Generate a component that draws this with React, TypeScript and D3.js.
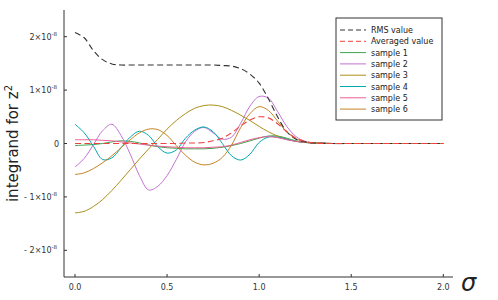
import React from "react";
import * as d3 from "d3";

// sigma grid and series values (units of 1e-8)
const sigma = [0, 0.05, 0.1, 0.15, 0.2, 0.25, 0.3, 0.35, 0.4, 0.45, 0.5, 0.55, 0.6, 0.65, 0.7, 0.75, 0.8, 0.85, 0.9, 0.95, 1.0, 1.05, 1.1, 1.15, 1.2, 1.25, 1.3, 1.4, 1.5, 1.75, 2.0];

const rmsValue = [2.08, 1.98, 1.74, 1.57, 1.49, 1.47, 1.47, 1.47, 1.47, 1.47, 1.47, 1.47, 1.47, 1.47, 1.47, 1.47, 1.46, 1.45, 1.4, 1.3, 1.13, 0.84, 0.5, 0.22, 0.08, 0.03, 0.01, 0, 0, 0, 0];
const averagedValue = [0, 0, 0, 0, 0, 0, 0, 0, 0, 0, 0, 0, 0.01, 0.01, 0.02, 0.05, 0.1, 0.2, 0.33, 0.44, 0.5, 0.48, 0.37, 0.22, 0.1, 0.04, 0.01, 0, 0, 0, 0];
const sample1 = [-0.04, -0.03, -0.02, 0.0, 0.03, 0.05, 0.04, 0.01, -0.03, -0.06, -0.08, -0.09, -0.1, -0.1, -0.1, -0.09, -0.07, -0.04, 0.0, 0.05, 0.1, 0.14, 0.14, 0.1, 0.05, 0.02, 0.01, 0, 0, 0, 0];
const sample2 = [-0.44, -0.28, -0.02, 0.24, 0.36, 0.15, -0.2, -0.6, -0.87, -0.8, -0.6, -0.3, 0.03, 0.23, 0.3, 0.2, 0.08, 0.12, 0.38, 0.7, 0.88, 0.85, 0.6, 0.32, 0.13, 0.04, 0.01, 0, 0, 0, 0];
const sample3 = [-1.3, -1.27, -1.18, -1.05, -0.88, -0.69, -0.49, -0.29, -0.1, 0.08, 0.27, 0.43, 0.56, 0.66, 0.71, 0.72, 0.69, 0.62, 0.53, 0.43, 0.32, 0.22, 0.14, 0.08, 0.04, 0.02, 0.01, 0, 0, 0, 0];
const sample4 = [0.36, 0.2, -0.05, -0.3, -0.27, -0.08, 0.12, 0.23, 0.15, -0.06, -0.18, -0.12, 0.1, 0.25, 0.31, 0.22, 0.0, -0.23, -0.31, -0.2, 0.02, 0.12, 0.12, 0.08, 0.04, 0.02, 0.01, 0, 0, 0, 0];
const sample5 = [0.07, 0.07, 0.07, 0.06, 0.05, 0.03, 0.01, -0.01, -0.03, -0.05, -0.06, -0.07, -0.08, -0.08, -0.08, -0.07, -0.06, -0.03, 0.02, 0.07, 0.11, 0.13, 0.11, 0.07, 0.04, 0.02, 0.01, 0, 0, 0, 0];
const sample6 = [-0.58, -0.55, -0.47, -0.36, -0.23, -0.08, 0.07, 0.2, 0.27, 0.26, 0.15, -0.04, -0.22, -0.35, -0.4, -0.37, -0.26, -0.03, 0.3, 0.56, 0.69, 0.62, 0.42, 0.22, 0.09, 0.03, 0.01, 0, 0, 0, 0];

const seriesNames = ["RMS value", "Averaged value", "sample 1", "sample 2", "sample 3", "sample 4", "sample 5", "sample 6"];
const seriesValues = [rmsValue, averagedValue, sample1, sample2, sample3, sample4, sample5, sample6];
const seriesColors = ["#333333", "#f04040", "#3ea44e", "#c371d2", "#ac8e18", "#00a9ad", "#ed5e93", "#c68225"];
const seriesDashed = [true, true, false, false, false, false, false, false];

const xTicks = [0, 0.5, 1.0, 1.5, 2.0];
const yTicks = [-2, -1, 0, 1, 2];

export default function App() {
  const W = 498, H = 300;
  const left = 64, right = 453, top = 10, bottom = 277;
  const x = d3.scaleLinear().domain([0, 2]).range([75, 443.3]);
  const y = d3.scaleLinear().domain([-2.5, 2.5]).range([bottom, top]);
  const line = d3.line<number>()
    .x((_, i) => x(sigma[i]))
    .y((d) => y(d))
    .curve(d3.curveCatmullRom.alpha(0.5));
  const font = "DejaVu Sans, sans-serif";
  const axisColor = "#333";
  const drawOrder = [2, 3, 4, 5, 6, 7, 0, 1];

  const yLabel = (v: number) => {
    if (v === 0) return <tspan>0</tspan>;
    const s = v < 0 ? "- " : "";
    return (
      <>
        <tspan>{s + Math.abs(v) + "×10"}</tspan>
        <tspan dy={-4} fontSize={5.5}>{"-8"}</tspan>
      </>
    );
  };

  const legX = 336, legY = 18, legW = 106, legH = 102;
  const rowY0 = 30, rowStep = 11.3;

  return (
    <svg width={W} height={H} style={{ position: "absolute", left: 0, top: 0, background: "#fff" }}>
      <rect x={0} y={0} width={W} height={H} fill="#fff" />
      {drawOrder.map((k) => (
        <path key={k} d={line(seriesValues[k]) || ""} fill="none" stroke={seriesColors[k]}
          strokeWidth={seriesDashed[k] ? 1.1 : 1} strokeDasharray={seriesDashed[k] ? "6,3.5" : undefined} />
      ))}
      <line x1={left} x2={left} y1={top} y2={bottom} stroke={axisColor} strokeWidth={1} />
      <line x1={left} x2={right} y1={bottom} y2={bottom} stroke={axisColor} strokeWidth={1} />
      {xTicks.map((t) => (
        <g key={"x" + t}>
          <line x1={x(t)} x2={x(t)} y1={bottom} y2={bottom - 3} stroke={axisColor} />
          <text x={x(t)} y={290} fontSize={8} fontFamily={font} textAnchor="middle" fill="#333">{t.toFixed(1)}</text>
        </g>
      ))}
      {yTicks.map((t) => (
        <g key={"y" + t}>
          <line x1={left} x2={left + 3} y1={y(t)} y2={y(t)} stroke={axisColor} />
          <text x={t === 0 ? 59 : 57} y={y(t) + 3} fontSize={8} fontFamily={font} textAnchor="end" fill="#333">{yLabel(t)}</text>
        </g>
      ))}
      <text transform={`translate(18,${(top + bottom) / 2}) rotate(-90)`} fontSize={15} fontFamily={font} textAnchor="middle" fill="#222">
        <tspan>integrand for z</tspan><tspan dy={-6} fontSize={10}>2</tspan>
      </text>
      <text x={461} y={291} fontSize={24} fontFamily={font} fontStyle="italic" fill="#222">σ</text>
      <rect x={legX} y={legY} width={legW} height={legH} fill="#fff" stroke={axisColor} strokeWidth={1} />
      {seriesNames.map((n, i) => (
        <g key={n}>
          <line x1={340} x2={366} y1={rowY0 + i * rowStep} y2={rowY0 + i * rowStep} stroke={seriesColors[i]}
            strokeWidth={1} strokeDasharray={seriesDashed[i] ? "5,3" : undefined} />
          <text x={371} y={rowY0 + i * rowStep + 3} fontSize={8} fontFamily={font} fill="#222">{n}</text>
        </g>
      ))}
    </svg>
  );
}
